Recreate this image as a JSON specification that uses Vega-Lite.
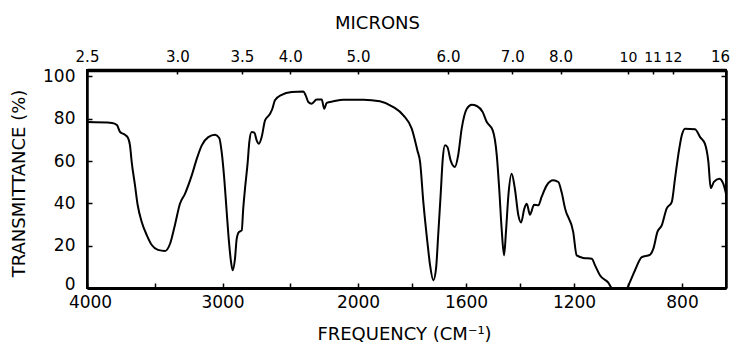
{
  "$schema": "https://vega.github.io/schema/vega-lite/v6.json",
  "width": 639,
  "height": 218,
  "autosize": {"type": "none"},
  "padding": {"left": 87, "top": 70, "right": 9, "bottom": 54},
  "background": "white",
  "config": {
    "font": "DejaVu Sans",
    "view": {"stroke": "black", "strokeWidth": 2},
    "axis": {
      "grid": false,
      "domainColor": "black",
      "tickColor": "black",
      "labelColor": "black",
      "titleColor": "black",
      "labelFontSize": 17,
      "titleFontSize": 18,
      "titleFontWeight": "normal",
      "labelFont": "DejaVu Sans",
      "titleFont": "DejaVu Sans",
      "labelFlush": false,
      "labelOverlap": false
    }
  },
  "data": {
    "values": [
      {"f": 4000, "t": 78.4}, {"f": 3815, "t": 78}, {"f": 3779, "t": 77}, {"f": 3756, "t": 73.7},
      {"f": 3720, "t": 72.4}, {"f": 3697, "t": 70.9}, {"f": 3683, "t": 67.5}, {"f": 3670, "t": 59.5},
      {"f": 3646, "t": 48.6}, {"f": 3626, "t": 39.2}, {"f": 3596, "t": 31.2}, {"f": 3559, "t": 25},
      {"f": 3522, "t": 20.3}, {"f": 3476, "t": 18}, {"f": 3424, "t": 17.5}, {"f": 3387, "t": 20.9},
      {"f": 3351, "t": 29.8}, {"f": 3314, "t": 39.8}, {"f": 3277, "t": 44.5}, {"f": 3227, "t": 53.2},
      {"f": 3190, "t": 61}, {"f": 3153, "t": 67.4}, {"f": 3105, "t": 71.3}, {"f": 3055, "t": 72.4},
      {"f": 3024, "t": 70.9}, {"f": 3006, "t": 64.2}, {"f": 2987, "t": 51.6}, {"f": 2969, "t": 35.9},
      {"f": 2952, "t": 21.7}, {"f": 2937, "t": 12.3}, {"f": 2925, "t": 8.4}, {"f": 2908, "t": 13.8},
      {"f": 2895, "t": 23.3}, {"f": 2878, "t": 26.5}, {"f": 2858, "t": 27.2}, {"f": 2847, "t": 37.5},
      {"f": 2834, "t": 46.9}, {"f": 2814, "t": 59.5}, {"f": 2802, "t": 69}, {"f": 2785, "t": 73.7},
      {"f": 2765, "t": 73.4}, {"f": 2748, "t": 69.8}, {"f": 2731, "t": 68.2}, {"f": 2711, "t": 71.3},
      {"f": 2686, "t": 79.2}, {"f": 2649, "t": 82.3}, {"f": 2632, "t": 84.7}, {"f": 2613, "t": 88.7},
      {"f": 2563, "t": 91.3}, {"f": 2489, "t": 92.6}, {"f": 2404, "t": 92.9}, {"f": 2386, "t": 91},
      {"f": 2367, "t": 87.9}, {"f": 2342, "t": 87.1}, {"f": 2305, "t": 89.1}, {"f": 2268, "t": 89.1},
      {"f": 2249, "t": 84.7}, {"f": 2231, "t": 87.5}, {"f": 2182, "t": 88.2}, {"f": 2108, "t": 89},
      {"f": 1980, "t": 89}, {"f": 1919, "t": 88.2}, {"f": 1869, "t": 85.5}, {"f": 1832, "t": 81.6},
      {"f": 1801, "t": 75.3}, {"f": 1780, "t": 65}, {"f": 1770, "t": 59.5}, {"f": 1758, "t": 40.6},
      {"f": 1743, "t": 21.7}, {"f": 1733, "t": 10.7}, {"f": 1721, "t": 3.6}, {"f": 1711, "t": 9.1},
      {"f": 1703, "t": 24.9}, {"f": 1694, "t": 43.8}, {"f": 1686, "t": 61.1}, {"f": 1678, "t": 67.4},
      {"f": 1669, "t": 66.6}, {"f": 1657, "t": 60.3}, {"f": 1641, "t": 57.2}, {"f": 1629, "t": 62.7},
      {"f": 1616, "t": 75.3}, {"f": 1597, "t": 84.7}, {"f": 1579, "t": 86.6}, {"f": 1560, "t": 86},
      {"f": 1538, "t": 83.1}, {"f": 1523, "t": 78.4}, {"f": 1501, "t": 74.5}, {"f": 1486, "t": 62.7},
      {"f": 1477, "t": 46.9}, {"f": 1468, "t": 28}, {"f": 1459, "t": 15.4}, {"f": 1452, "t": 26.5},
      {"f": 1443, "t": 43.8}, {"f": 1431, "t": 54}, {"f": 1419, "t": 46.9}, {"f": 1406, "t": 34.3},
      {"f": 1396, "t": 30.9}, {"f": 1384, "t": 37.5}, {"f": 1375, "t": 39.8}, {"f": 1363, "t": 34.6},
      {"f": 1348, "t": 39.3}, {"f": 1332, "t": 39.1}, {"f": 1320, "t": 43}, {"f": 1301, "t": 48.5},
      {"f": 1277, "t": 50.9}, {"f": 1258, "t": 50.1}, {"f": 1246, "t": 45.3}, {"f": 1233, "t": 37.5},
      {"f": 1203, "t": 26.5}, {"f": 1190, "t": 15.4}, {"f": 1166, "t": 14.2}, {"f": 1134, "t": 13.8},
      {"f": 1122, "t": 10.7}, {"f": 1104, "t": 6}, {"f": 1073, "t": 2.5}, {"f": 1059, "t": 0},
      {"f": 1004, "t": 0}, {"f": 993, "t": 2.8}, {"f": 974, "t": 8.4}, {"f": 949, "t": 14.6},
      {"f": 919, "t": 15.7}, {"f": 906, "t": 18.6}, {"f": 891, "t": 26.5}, {"f": 875, "t": 29.6},
      {"f": 857, "t": 37.5}, {"f": 838, "t": 40.6}, {"f": 826, "t": 51.6}, {"f": 814, "t": 62.7},
      {"f": 801, "t": 72.1}, {"f": 788, "t": 75.3}, {"f": 748, "t": 75}, {"f": 728, "t": 71.3},
      {"f": 709, "t": 68.2}, {"f": 695, "t": 59.5}, {"f": 686, "t": 47.2}, {"f": 673, "t": 50.1},
      {"f": 652, "t": 51.6}, {"f": 636, "t": 49.3}, {"f": 625, "t": 44.5}
    ]
  },
  "layer": [
    {
      "mark": {"type": "line", "color": "black", "strokeWidth": 2, "interpolate": "monotone"},
      "encoding": {
        "x": {
          "field": "f", "type": "quantitative",
          "scale": {"domain": [4000, 2000, 800, 625], "range": [0, 271, 595, 639], "nice": false, "zero": false},
          "axis": {
            "orient": "bottom",
            "values": [4000, 3500, 3000, 2500, 2000, 1800, 1600, 1400, 1200, 1000, 800],
            "format": "d",
            "labelExpr": "(datum.value == 4000 || datum.value == 3000 || datum.value == 2000 || datum.value == 1600 || datum.value == 1200 || datum.value == 800) ? datum.label : ''",
            "labelOffset": {"condition": {"test": "datum.value == 4000", "value": 3}, "value": 0},
            "tickSize": -5, "tickWidth": 1.5, "labelPadding": 11, "domainWidth": 3,
            "title": "FREQUENCY (CM⁻¹)", "titleX": 317, "titleY": 46, "titleBaseline": "middle", "titleAlign": "center"
          }
        },
        "y": {
          "field": "t", "type": "quantitative",
          "scale": {"domain": [0, 103], "nice": false, "zero": false},
          "axis": {
            "orient": "left",
            "values": [0, 20, 40, 60, 80, 100],
            "labelOffset": {"condition": {"test": "datum.value == 0", "value": -4}, "value": 0},
            "tickSize": -5, "tickWidth": 1.5, "labelPadding": 17, "domainWidth": 2.5,
            "title": "TRANSMITTANCE (%)", "titleX": -68, "titleY": 113, "titleBaseline": "middle", "titleAlign": "center", "titleAngle": -90
          }
        }
      }
    },
    {
      "mark": {"type": "line", "opacity": 0},
      "encoding": {
        "x": {
          "field": "f", "type": "quantitative",
          "scale": {"domain": [4000, 2000, 800, 625], "range": [0, 271, 595, 639], "nice": false, "zero": false},
          "axis": {
            "orient": "top",
            "values": [4000, 3333.333, 2857.143, 2500, 2000, 1666.667, 1428.571, 1250, 1000, 909.091, 833.333, 625],
            "labelExpr": "datum.value > 1100 ? format(10000/datum.value, '.1f') : format(10000/datum.value, '.0f')",
            "labelFontSize": {"condition": {"test": "datum.value < 1100 && datum.value > 700", "value": 14}, "value": 15},
            "labelOffset": {"condition": {"test": "datum.value < 630", "value": -6}, "value": 0},
            "tickSize": -4, "tickWidth": 1.5, "labelPadding": 10, "domainWidth": 3.5,
            "title": "MICRONS", "titleX": 290, "titleY": -47, "titleBaseline": "middle", "titleAlign": "center"
          }
        },
        "y": {
          "field": "t", "type": "quantitative",
          "scale": {"domain": [0, 103], "nice": false, "zero": false},
          "axis": {
            "orient": "right",
            "values": [0, 20, 40, 60, 80, 100],
            "labels": false, "title": null,
            "tickSize": -5, "tickWidth": 1.5, "domainWidth": 2.5
          }
        }
      }
    }
  ],
  "resolve": {"axis": {"x": "independent", "y": "independent"}}
}
